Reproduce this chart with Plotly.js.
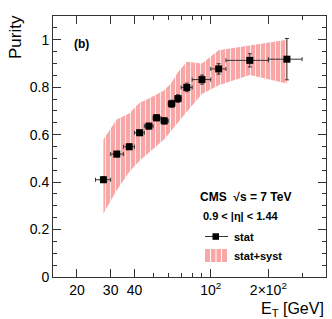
<!DOCTYPE html>
<html>
<head>
<meta charset="utf-8">
<script src="https://cdn.plot.ly/plotly-3.0.1.min.js"></script>
<style>html,body{margin:0;padding:0;background:#fff;}#chart{width:332px;height:319px;}</style>
</head>
<body>
<div id="chart"></div>
<script>
// Data
const etCenters = [27.5, 32.3, 37.5, 42.5, 47.5, 52.1, 57.2, 62.5, 67.5, 75.0, 90, 110, 160, 250];
const binLow    = [25, 30, 35, 40, 45, 50, 55, 60, 65, 70, 80, 100, 120, 200];
const binHigh   = [30, 35, 40, 45, 50, 55, 60, 65, 70, 80, 100, 120, 200, 300];
const purity    = [0.410, 0.518, 0.549, 0.608, 0.636, 0.671, 0.658, 0.730, 0.752, 0.799, 0.832, 0.877, 0.913, 0.918];
const statErr   = [0.012, 0.012, 0.012, 0.012, 0.012, 0.013, 0.014, 0.015, 0.016, 0.018, 0.019, 0.022, 0.028, 0.087];
const bandUpper = [0.580, 0.664, 0.689, 0.734, 0.752, 0.771, 0.787, 0.820, 0.864, 0.907, 0.900, 0.956, 0.977, 1.000];
const bandLower = [0.268, 0.366, 0.443, 0.490, 0.522, 0.552, 0.581, 0.618, 0.653, 0.696, 0.771, 0.808, 0.851, 0.816];
const xTickVals = [20, 30, 40, 100, 200];
const xTickText = ['20', '30', '40', '10<sup>2</sup>', '2×10<sup>2</sup>'];
const xMinorVals = [50, 60, 70, 80, 90, 300, 400];

const pink = '#f8a6a6';

const band = {
  x: etCenters.concat(etCenters.slice().reverse()),
  y: bandUpper.concat(bandLower.slice().reverse()),
  type: 'scatter', mode: 'lines', fill: 'toself',
  fillcolor: pink,
  fillpattern: {shape: '|', bgcolor: pink, fgcolor: '#ffffff', size: 5, solidity: 0.15},
  line: {width: 0}, hoverinfo: 'skip', showlegend: false
};

const stat = {
  x: etCenters, y: purity, type: 'scatter', mode: 'markers',
  marker: {symbol: 'square', size: 7, color: '#000'},
  error_y: {type: 'data', array: statErr, color: '#333', thickness: 1, width: 2},
  error_x: {type: 'data', array: etCenters.map((c, i) => binHigh[i] - c),
            arrayminus: etCenters.map((c, i) => c - binLow[i]), color: '#333', thickness: 1, width: 2},
  showlegend: false
};

const L = 53, R = 326, T = 16, B = 277;
const px = X => (X - L) / (R - L);
const py = Y => (B - Y) / (B - T);
const bold = {family: 'Liberation Sans, Arial, sans-serif', color: '#000'};

const layout = {
  width: 332, height: 319,
  margin: {l: 53, r: 6, t: 16, b: 42},
  paper_bgcolor: '#fff', plot_bgcolor: '#fff',
  showlegend: false,
  font: {family: 'Liberation Sans, Arial, sans-serif', size: 14, color: '#000'},
  xaxis: {
    type: 'log', range: [Math.log10(15), Math.log10(400)],
    tickmode: 'array', tickvals: xTickVals, ticktext: xTickText,
    ticks: 'inside', ticklen: 8, tickcolor: '#333',
    showline: true, linecolor: '#333', linewidth: 1, mirror: 'ticks',
    showgrid: false, zeroline: false,
    tickfont: {size: 14},
    minor: {tickvals: xMinorVals, ticks: 'inside', ticklen: 4, tickcolor: '#333', showgrid: false}
  },
  yaxis: {
    range: [0, 1.1], tickmode: 'linear', tick0: 0, dtick: 0.2,
    ticks: 'inside', ticklen: 8, tickcolor: '#333',
    showline: true, linecolor: '#333', linewidth: 1, mirror: 'ticks',
    showgrid: false, zeroline: false,
    tickfont: {size: 14},
    minor: {dtick: 0.05, ticks: 'inside', ticklen: 4, tickcolor: '#333', showgrid: false}
  },
  annotations: [
    {xref: 'paper', yref: 'paper', x: px(15), y: py(37), text: 'Purity', textangle: -90,
     showarrow: false, font: {size: 17}, xanchor: 'center', yanchor: 'middle'},
    {xref: 'paper', yref: 'paper', x: px(325), y: py(309), text: 'E<sub>T</sub> [GeV]',
     showarrow: false, font: {size: 16}, xanchor: 'right', yanchor: 'middle', borderpad: 0},
    {xref: 'paper', yref: 'paper', x: px(72), y: py(43.5), text: '<b>(b)</b>',
     showarrow: false, font: Object.assign({size: 12}, bold), xanchor: 'left', yanchor: 'middle'},
    {xref: 'paper', yref: 'paper', x: px(198), y: py(197), text: '<b>CMS  √s = 7 TeV</b>',
     showarrow: false, font: Object.assign({size: 12}, bold), xanchor: 'left', yanchor: 'middle'},
    {xref: 'paper', yref: 'paper', x: px(201), y: py(216), text: '<b>0.9 &lt; |η| &lt; 1.44</b>',
     showarrow: false, font: Object.assign({size: 11}, bold), xanchor: 'left', yanchor: 'middle'},
    {xref: 'paper', yref: 'paper', x: px(232), y: py(236.5), text: '<b>stat</b>',
     showarrow: false, font: Object.assign({size: 11}, bold), xanchor: 'left', yanchor: 'middle'},
    {xref: 'paper', yref: 'paper', x: px(232), y: py(255.5), text: '<b>stat+syst</b>',
     showarrow: false, font: Object.assign({size: 11}, bold), xanchor: 'left', yanchor: 'middle'}
  ],
  shapes: [
    {type: 'line', xref: 'paper', yref: 'paper', x0: px(205), x1: px(228), y0: py(236.5), y1: py(236.5),
     line: {color: '#333', width: 1}},
    {type: 'rect', xref: 'paper', yref: 'paper', x0: px(212.5), x1: px(219), y0: py(233.3), y1: py(239.8),
     fillcolor: '#000', line: {width: 0}},
    {type: 'rect', xref: 'paper', yref: 'paper', x0: px(205), x1: px(227), y0: py(249), y1: py(262),
     fillcolor: pink, line: {width: 0}},
    {type: 'line', xref: 'paper', yref: 'paper', x0: px(210.5), x1: px(210.5), y0: py(249), y1: py(262),
     line: {color: '#fff', width: 1}},
    {type: 'line', xref: 'paper', yref: 'paper', x0: px(216), x1: px(216), y0: py(249), y1: py(262),
     line: {color: '#fff', width: 1}},
    {type: 'line', xref: 'paper', yref: 'paper', x0: px(221.5), x1: px(221.5), y0: py(249), y1: py(262),
     line: {color: '#fff', width: 1}}
  ]
};

Plotly.newPlot('chart', [band, stat], layout, {displayModeBar: false, staticPlot: true});
</script>
</body>
</html>
